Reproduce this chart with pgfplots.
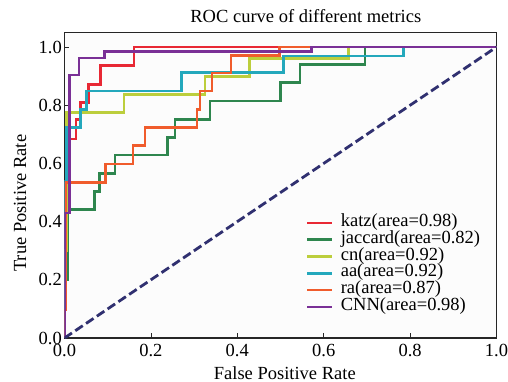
\documentclass[border=0pt]{standalone}
\usepackage{fontspec}
\setmainfont{Liberation Serif}
\usepackage{pgfplots}
\pgfplotsset{compat=1.18}
\definecolor{cKatz}{RGB}{232,40,52}
\definecolor{cJac}{RGB}{46,134,78}
\definecolor{cCn}{RGB}{188,206,60}
\definecolor{cAa}{RGB}{36,168,188}
\definecolor{cRa}{RGB}{240,92,44}
\definecolor{cCnn}{RGB}{122,48,150}
\definecolor{cDiag}{RGB}{48,48,112}
\begin{document}
\begin{tikzpicture}[font=\fontsize{18.5bp}{22bp}\selectfont]
\path[use as bounding box] (-64.5bp,-44bp) rectangle (443.5bp,338bp);
\begin{axis}[
  at={(0,0)}, anchor=south west,
  scale only axis, width=432bp, height=305.5bp,
  xmin=0, xmax=1, ymin=0, ymax=1.05,
  xtick={0,0.2,0.4,0.6,0.8,1}, xticklabels={0.0,0.2,0.4,0.6,0.8,1.0},
  ytick={0,0.2,0.4,0.6,0.8,1}, yticklabels={0.0,0.2,0.4,0.6,0.8,1.0},
  tick pos=left, tick align=inside, major tick length=5bp,
  tick style={black!85, line width=0.8bp},
  axis line style={black!85, line width=1.1bp},
  axis background/.style={fill=black!1.2},
  yticklabel style={inner sep=2.5bp},
  xticklabel style={inner sep=2.5bp, yshift=-3.5bp},
  title={ROC curve of different metrics},
  title style={at={(axis description cs:0.5586,1.0137)}, anchor=base, inner sep=0pt},
  xlabel={False Positive Rate},
  xlabel style={at={(axis description cs:0.51,-0.1358)}, anchor=base, inner sep=0pt},
  ylabel={True Positive Rate},
  ylabel style={at={(axis description cs:-0.103,0.441)}, anchor=center, inner sep=0pt},
  legend cell align=left,
  legend image code/.code={\draw[#1] (0bp,0bp) -- (25bp,0bp);},
  legend style={at={(axis description cs:0.5579,0.4052)}, anchor=north west,
    draw=none, fill=none, inner sep=0pt, row sep=0pt, column sep=6bp,
    nodes={inner sep=1.5bp, text height=10.5bp, text depth=3.3bp}},
  every axis plot/.append style={line width=2.6bp, line join=miter},
]
\addplot[cKatz] coordinates {(0,0) (0,0.53) (0.008,0.53) (0.008,0.684) (0.027,0.684) (0.027,0.75) (0.037,0.75) (0.037,0.809) (0.055,0.809) (0.055,0.872) (0.084,0.872) (0.084,0.937) (0.161,0.937) (0.161,1.0) (1,1)};
\addlegendentry{katz(area=0.98)}
\addplot[cJac] coordinates {(0,0) (0,0.2) (0.0065,0.2) (0.0065,0.441) (0.069,0.441) (0.069,0.503) (0.081,0.503) (0.081,0.566) (0.117,0.566) (0.117,0.629) (0.238,0.629) (0.238,0.689) (0.256,0.689) (0.256,0.752) (0.337,0.752) (0.337,0.815) (0.5,0.815) (0.5,0.878) (0.545,0.878) (0.545,0.941) (0.696,0.941) (0.696,1) (1,1)};
\addlegendentry{jaccard(area=0.82)}
\addplot[cCn] coordinates {(0,0) (0,0.3) (0.005,0.3) (0.005,0.775) (0.138,0.775) (0.138,0.836) (0.325,0.836) (0.325,0.898) (0.428,0.898) (0.428,0.961) (0.657,0.961) (0.657,1) (1,1)};
\addlegendentry{cn(area=0.92)}
\addplot[cAa] coordinates {(0,0) (0,0.54) (0.005,0.54) (0.005,0.724) (0.037,0.724) (0.037,0.786) (0.051,0.786) (0.051,0.849) (0.271,0.849) (0.271,0.912) (0.507,0.912) (0.507,0.969) (0.785,0.969) (0.785,1) (1,1)};
\addlegendentry{aa(area=0.92)}
\addplot[cRa] coordinates {(0,0) (0,0.096) (0.0035,0.096) (0.0035,0.535) (0.095,0.535) (0.095,0.598) (0.159,0.598) (0.159,0.661) (0.186,0.661) (0.186,0.724) (0.307,0.724) (0.307,0.786) (0.314,0.786) (0.314,0.849) (0.341,0.849) (0.341,0.911) (0.385,0.911) (0.385,0.971) (0.497,0.971) (0.497,1) (1,1)};
\addlegendentry{ra(area=0.87)}
\addplot[cCnn] coordinates {(0,0) (0,0.43) (0.011,0.43) (0.011,0.904) (0.034,0.904) (0.034,0.963) (0.092,0.963) (0.092,0.984) (0.572,0.984) (0.572,1) (1,1)};
\addlegendentry{CNN(area=0.98)}
\addplot[cDiag, line width=2.8bp, dash pattern=on 9bp off 4bp, forget plot] coordinates {(0,0) (1,1)};
\end{axis}
\end{tikzpicture}
\end{document}
